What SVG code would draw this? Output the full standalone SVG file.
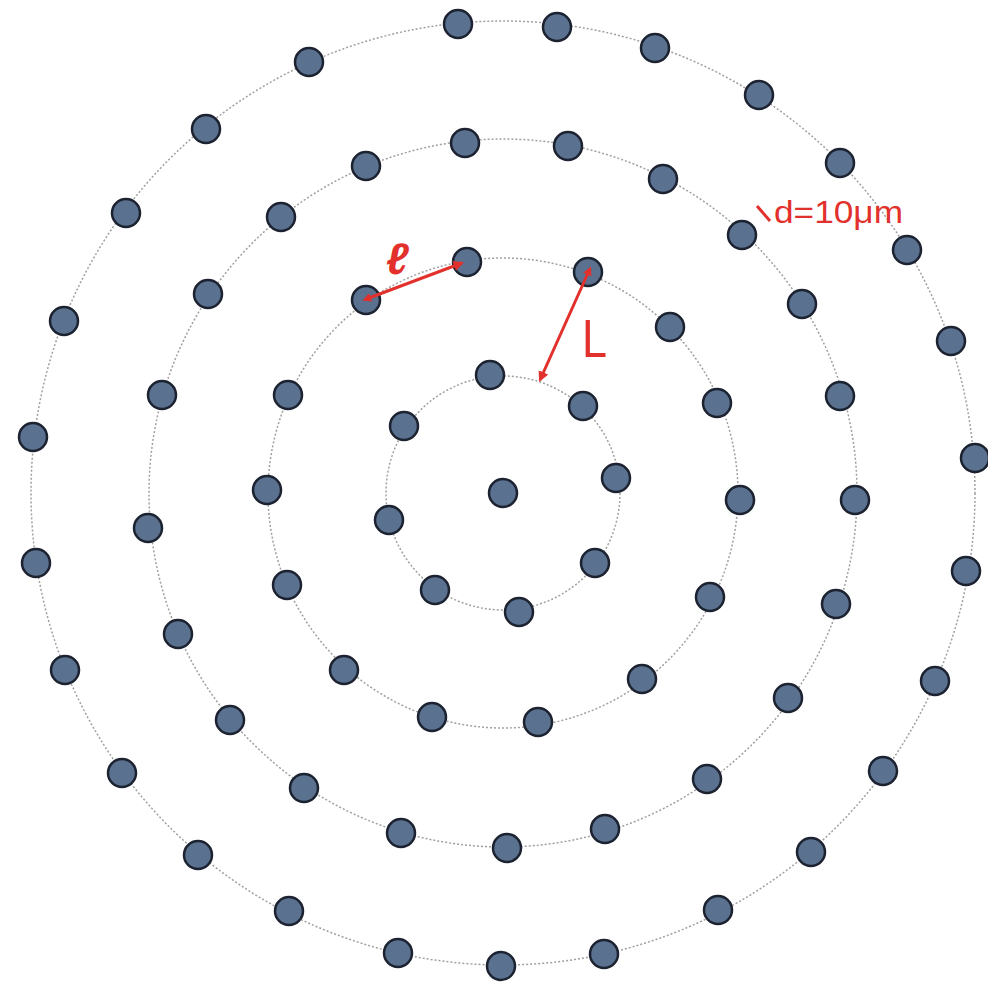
<svg xmlns="http://www.w3.org/2000/svg" width="988" height="983" viewBox="0 0 988 983">
<defs>
<style>
.ring{fill:none;stroke:#a0a0a0;stroke-width:1.5;stroke-dasharray:2 2}
.dot{fill:#5a7190;stroke:#1c2230;stroke-width:2.5}
.ann{stroke:#e2302c;stroke-width:3;fill:none}
.lbl{fill:#e2302c;font-family:"Liberation Sans",Arial,sans-serif}
</style>
<marker id="ah" viewBox="0 0 10 10" refX="8" refY="5" markerWidth="3.5" markerHeight="3.5" orient="auto">
<path d="M0,0 L10,5 L0,10 z" fill="#e2302c"/>
</marker>
<marker id="as" viewBox="0 0 10 10" refX="2" refY="5" markerWidth="3" markerHeight="3" orient="auto-start-reverse">
<path d="M0,0 L10,5 L0,10 z" fill="#e2302c"/>
</marker>
</defs>
<rect width="988" height="983" fill="#ffffff"/>
<g id="rings">
<circle class="ring" cx="503" cy="493" r="117"/>
<circle class="ring" cx="503" cy="493" r="235"/>
<circle class="ring" cx="503" cy="493" r="354"/>
<circle class="ring" cx="503" cy="493" r="472"/>
</g>
<g id="center"><circle class="dot" cx="503" cy="493" r="14"/></g>
<g id="ring1">
<circle class="dot" cx="490" cy="375" r="14"/>
<circle class="dot" cx="583" cy="406" r="14"/>
<circle class="dot" cx="616" cy="478" r="14"/>
<circle class="dot" cx="595" cy="563" r="14"/>
<circle class="dot" cx="519" cy="612" r="14"/>
<circle class="dot" cx="435" cy="590" r="14"/>
<circle class="dot" cx="389" cy="520" r="14"/>
<circle class="dot" cx="404" cy="426" r="14"/>
</g>
<g id="ring2">
<circle class="dot" cx="467" cy="262" r="14"/>
<circle class="dot" cx="588" cy="272" r="14"/>
<circle class="dot" cx="670" cy="327" r="14"/>
<circle class="dot" cx="717" cy="403" r="14"/>
<circle class="dot" cx="740" cy="500" r="14"/>
<circle class="dot" cx="710" cy="597" r="14"/>
<circle class="dot" cx="642" cy="679" r="14"/>
<circle class="dot" cx="538" cy="722" r="14"/>
<circle class="dot" cx="432" cy="717" r="14"/>
<circle class="dot" cx="344" cy="670" r="14"/>
<circle class="dot" cx="287" cy="585" r="14"/>
<circle class="dot" cx="267" cy="490" r="14"/>
<circle class="dot" cx="288" cy="395" r="14"/>
<circle class="dot" cx="366" cy="300" r="14"/>
</g>
<g id="ring3">
<circle class="dot" cx="465" cy="143" r="14"/>
<circle class="dot" cx="568" cy="146" r="14"/>
<circle class="dot" cx="663" cy="179" r="14"/>
<circle class="dot" cx="742" cy="235" r="14"/>
<circle class="dot" cx="802" cy="304" r="14"/>
<circle class="dot" cx="840" cy="396" r="14"/>
<circle class="dot" cx="855" cy="500" r="14"/>
<circle class="dot" cx="836" cy="604" r="14"/>
<circle class="dot" cx="788" cy="698" r="14"/>
<circle class="dot" cx="707" cy="779" r="14"/>
<circle class="dot" cx="605" cy="829" r="14"/>
<circle class="dot" cx="507" cy="848" r="14"/>
<circle class="dot" cx="401" cy="833" r="14"/>
<circle class="dot" cx="304" cy="788" r="14"/>
<circle class="dot" cx="230" cy="720" r="14"/>
<circle class="dot" cx="178" cy="634" r="14"/>
<circle class="dot" cx="148" cy="528" r="14"/>
<circle class="dot" cx="162" cy="395" r="14"/>
<circle class="dot" cx="208" cy="294" r="14"/>
<circle class="dot" cx="281" cy="217" r="14"/>
<circle class="dot" cx="366" cy="166" r="14"/>
</g>
<g id="ring4">
<circle class="dot" cx="458" cy="24" r="14"/>
<circle class="dot" cx="557" cy="27" r="14"/>
<circle class="dot" cx="655" cy="48" r="14"/>
<circle class="dot" cx="759" cy="95" r="14"/>
<circle class="dot" cx="840" cy="163" r="14"/>
<circle class="dot" cx="907" cy="250" r="14"/>
<circle class="dot" cx="951" cy="341" r="14"/>
<circle class="dot" cx="975" cy="458" r="14"/>
<circle class="dot" cx="966" cy="571" r="14"/>
<circle class="dot" cx="935" cy="681" r="14"/>
<circle class="dot" cx="883" cy="771" r="14"/>
<circle class="dot" cx="811" cy="852" r="14"/>
<circle class="dot" cx="718" cy="910" r="14"/>
<circle class="dot" cx="604" cy="954" r="14"/>
<circle class="dot" cx="501" cy="966" r="14"/>
<circle class="dot" cx="398" cy="953" r="14"/>
<circle class="dot" cx="289" cy="911" r="14"/>
<circle class="dot" cx="198" cy="855" r="14"/>
<circle class="dot" cx="122" cy="773" r="14"/>
<circle class="dot" cx="65" cy="670" r="14"/>
<circle class="dot" cx="36" cy="563" r="14"/>
<circle class="dot" cx="33" cy="437" r="14"/>
<circle class="dot" cx="64" cy="321" r="14"/>
<circle class="dot" cx="126" cy="213" r="14"/>
<circle class="dot" cx="206" cy="129" r="14"/>
<circle class="dot" cx="309" cy="62" r="14"/>
</g>
<g id="connectors">
<line class="ann" x1="369" y1="298" x2="462" y2="263" marker-end="url(#ah)" marker-start="url(#as)"/>
<line class="ann" x1="588" y1="273" x2="540" y2="380" marker-end="url(#ah)" marker-start="url(#as)"/>
<line class="ann" x1="757" y1="206" x2="770" y2="221"/>
</g>
<g id="labels">
<text class="lbl" x="386" y="274" font-size="44" font-style="italic" font-weight="bold" font-family="'Liberation Serif',serif">ℓ</text>
<text class="lbl" x="582" y="357" font-size="53" textLength="25" lengthAdjust="spacingAndGlyphs">L</text>
<text class="lbl" x="774" y="223" font-size="31" textLength="129" lengthAdjust="spacingAndGlyphs">d=10μm</text>
</g>
</svg>
